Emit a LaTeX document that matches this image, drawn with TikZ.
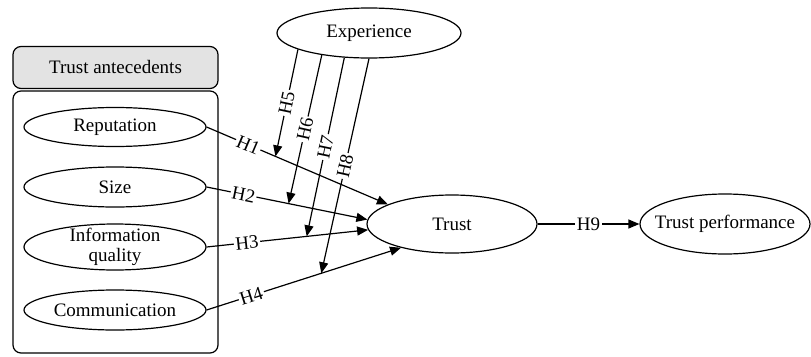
\documentclass[tikz,border=0pt]{standalone}
\usepackage{fontspec}
\setmainfont{Liberation Serif}
\usetikzlibrary{arrows.meta,shapes.geometric}

\begin{document}
\begin{tikzpicture}[x=1pt,y=-1pt,font=\fontsize{19}{20}\selectfont,
  var/.style={ellipse,draw,line width=1.2pt,inner sep=0pt,minimum width=182pt,minimum height=39pt,align=center},
  link/.style={line width=1.2pt,-{Triangle[length=11pt,width=9pt]}},
  hyp/.style={fill=white,inner sep=1.5pt,sloped}]
\useasboundingbox (0,0) rectangle (811,356);

\node[draw,rounded corners=8pt,fill=gray!22,line width=1.2pt,minimum width=205pt,minimum height=42pt] (head) at (115.5,67.5) {Trust antecedents};
\node[draw,rounded corners=8pt,line width=1.2pt,minimum width=205pt,minimum height=262pt] (group) at (115.5,222) {};

\node[var] (rep) at (115,127) {Reputation};
\node[var,minimum height=40pt] (size) at (115,187) {Size};
\node[var,minimum height=46pt,inner ysep=-5pt] (info) at (115,247) {Information\\quality};
\node[var,minimum height=40pt] (comm) at (115,310) {Communication};

\node[var,minimum width=184pt,minimum height=50pt] (exp) at (369,33) {Experience};
\node[var,minimum width=170pt,minimum height=58pt] (trust) at (452,224) {Trust};
\node[var,minimum width=170pt,minimum height=60pt,inner xsep=-11pt] (tp) at (725,224) {Trust performance};

\draw[link] (rep.east) -- coordinate[pos=.38] (m1) node[hyp,pos=.23] {H1} (trust.163);
\draw[link] (size.east) -- coordinate[pos=.51] (m2) node[hyp,pos=.23] {H2} (trust.177);
\draw[link] (info.east) -- coordinate[pos=.62] (m3) node[hyp,pos=.25] {H3} (trust.184);
\draw[link] (comm.east) -- coordinate[pos=.59] (m4) node[hyp,pos=.23] {H4} (trust.205);

\draw[link] (exp.193) -- node[hyp] {H5} (m1);
\draw[link] (exp.205) -- node[hyp] {H6} (m2);
\draw[link] (exp.225) -- node[hyp] {H7} (m3);
\draw[link] (exp.270) -- node[hyp] {H8} (m4);

\draw[link] (trust) -- node[fill=white,inner sep=1.5pt] {H9} (tp);
\end{tikzpicture}
\end{document}
